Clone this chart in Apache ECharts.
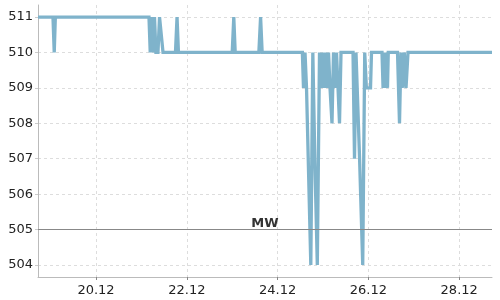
<!DOCTYPE html>
<html>
<head>
<meta charset="utf-8">
<script src="https://cdn.jsdelivr.net/npm/echarts@6/dist/echarts.min.js"></script>
<style>html,body{margin:0;padding:0;background:#fff}#c{width:500px;height:300px}</style>
</head>
<body>
<div id="c"></div>
<script>
// Time stamps (local time) and level values
var times = [
  "2023-12-18 17:20","2023-12-19 01:15","2023-12-19 01:55","2023-12-19 02:30",
  "2023-12-21 04:00","2023-12-21 04:40","2023-12-21 05:25","2023-12-21 06:10","2023-12-21 06:55","2023-12-21 07:40",
  "2023-12-21 08:45","2023-12-21 09:35","2023-12-21 10:35","2023-12-21 11:25",
  "2023-12-21 18:00","2023-12-21 18:50","2023-12-21 19:35",
  "2023-12-23 00:00","2023-12-23 00:50","2023-12-23 01:35",
  "2023-12-23 14:05","2023-12-23 15:00","2023-12-23 15:50",
  "2023-12-24 13:05","2023-12-24 13:41","2023-12-24 14:29","2023-12-24 15:17","2023-12-24 16:04",
  "2023-12-24 17:33","2023-12-24 18:37","2023-12-24 19:40","2023-12-24 20:59","2023-12-24 22:09",
  "2023-12-24 22:57","2023-12-24 23:44","2023-12-25 00:32","2023-12-25 01:19","2023-12-25 02:07",
  "2023-12-25 02:55","2023-12-25 03:42","2023-12-25 04:45","2023-12-25 05:33","2023-12-25 06:20",
  "2023-12-25 07:08","2023-12-25 07:56","2023-12-25 08:43","2023-12-25 09:31",
  "2023-12-25 15:52","2023-12-25 16:39","2023-12-25 17:26","2023-12-25 19:20",
  "2023-12-25 21:00","2023-12-25 22:03","2023-12-25 22:55","2023-12-26 01:07","2023-12-26 01:38",
  "2023-12-26 07:11","2023-12-26 07:45","2023-12-26 08:20","2023-12-26 08:55","2023-12-26 09:30","2023-12-26 10:05","2023-12-26 10:30",
  "2023-12-26 15:23","2023-12-26 16:26","2023-12-26 17:14","2023-12-26 18:01","2023-12-26 18:59",
  "2023-12-26 19:53","2023-12-26 20:56","2023-12-28 17:20"
];
var levels = [
  511,511,510,511,
  511,510,511,510,511,510,
  510,511,511,510,
  510,511,510,
  510,511,510,
  510,511,510,
  510,509,510,509,509,
  504,510,507,504,510,
  509,510,509,510,509,
  510,509,508,510,509,
  510,509,508,510,
  510,507,510,507,
  504,510,509,509,510,
  510,509,510,509,510,509,510,
  510,508,510,509,510,
  509,510,510
];
var yTicks = [504,505,506,507,508,509,510,511];
var xTickDays = ["2023-12-20","2023-12-22","2023-12-24","2023-12-26","2023-12-28"];
var xMin = "2023-12-18 17:20", xMax = "2023-12-28 17:20";
var yMin = 503.66, yMax = 511.34;
var mwLevel = 505, mwLabel = "MW";

function ts(s){ var p = s.split(/[- :]/); return new Date(+p[0], +p[1]-1, +p[2], +(p[3]||0), +(p[4]||0)).getTime(); }
var seriesData = times.map(function(t,i){ return [ts(t), levels[i]]; });
var xTicks = xTickDays.map(ts);
function pad(n){ return (n<10?'0':'')+n; }

var chart = echarts.init(document.getElementById('c'), null, {renderer:'canvas'});
var font = 'DejaVu Sans';
chart.setOption({
  animation:false,
  grid:{left:38,right:8,top:5,bottom:23},
  xAxis:{
    type:'value', min:ts(xMin), max:ts(xMax),
    axisLine:{lineStyle:{color:'#bbb',width:1}},
    axisTick:{show:true,length:3,lineStyle:{color:'#888'},customValues:xTicks},
    axisLabel:{customValues:xTicks,margin:7,color:'#222',fontFamily:font,fontSize:13,
      formatter:function(v){var d=new Date(v);return pad(d.getDate())+'.'+pad(d.getMonth()+1);}},
    splitLine:{show:true,lineStyle:{color:'#ddd',type:[3,3],width:1}}
  },
  yAxis:{
    type:'value', min:yMin, max:yMax,
    axisLine:{show:true,lineStyle:{color:'#bbb',width:1}},
    axisTick:{show:true,length:3,lineStyle:{color:'#ccc'},customValues:yTicks},
    axisLabel:{customValues:yTicks,margin:5,color:'#222',fontFamily:font,fontSize:13,
      formatter:function(v){return String(Math.round(v));}},
    splitLine:{show:true,lineStyle:{color:'#ddd',type:[3,3],width:1}}
  },
  series:[{
    type:'line', data:seriesData, showSymbol:false, symbol:'none',
    lineStyle:{color:'#7fb3cb',width:3.3,join:'miter'},
    markLine:{
      silent:true, symbol:'none',
      lineStyle:{color:'#888',width:1,type:'solid'},
      label:{show:true,position:'middle',formatter:mwLabel,fontFamily:font,fontWeight:'bold',fontSize:13,color:'#333',distance:-1},
      data:[{yAxis:mwLevel}]
    }
  }]
});
</script>
</body>
</html>
